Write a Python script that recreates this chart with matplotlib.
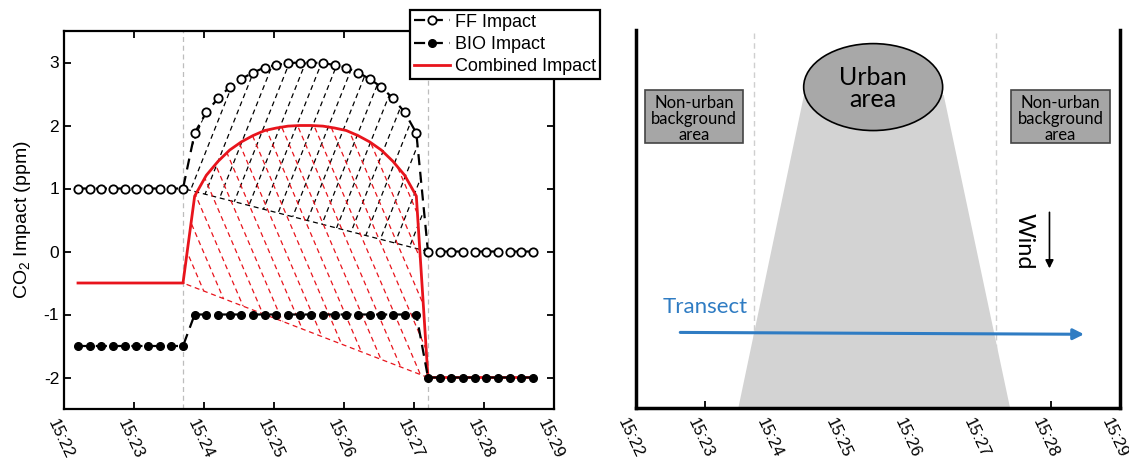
import numpy as np
import matplotlib
matplotlib.use("Agg")
import matplotlib.pyplot as plt
import matplotlib.transforms as mtransforms
from matplotlib.patches import Polygon, Ellipse, Rectangle

plt.rcParams["font.family"] = ["Liberation Sans", "DejaVu Sans"]
plt.rcParams["axes.unicode_minus"] = False
plt.rcParams["mathtext.fontset"] = "custom"
plt.rcParams["mathtext.rm"] = "Liberation Sans"
plt.rcParams["mathtext.default"] = "regular"

# sample times, seconds after 15:22:00 (10 s sampling)
time_s = [12, 22, 32, 42, 52, 62, 72, 82, 92, 102,
          112, 122, 132, 142, 152, 162, 172, 182, 192, 202,
          212, 222, 232, 242, 252, 262, 272, 282, 292, 302,
          312, 322, 332, 342, 352, 362, 372, 382, 392, 402]

ff_impact = [1, 1, 1, 1, 1, 1, 1, 1, 1, 1,
             1.88, 2.21, 2.43, 2.61, 2.74, 2.84, 2.92, 2.96, 2.99, 3.0,
             3.0, 2.99, 2.96, 2.92, 2.84, 2.74, 2.61, 2.43, 2.21, 1.88,
             0, 0, 0, 0, 0, 0, 0, 0, 0, 0]

bio_impact = [-1.5, -1.5, -1.5, -1.5, -1.5, -1.5, -1.5, -1.5, -1.5, -1.5,
              -1, -1, -1, -1, -1, -1, -1, -1, -1, -1,
              -1, -1, -1, -1, -1, -1, -1, -1, -1, -1,
              -2, -2, -2, -2, -2, -2, -2, -2, -2, -2]

tick_labels = ["15:22", "15:23", "15:24", "15:25", "15:26", "15:27", "15:28", "15:29"]

# index of the last background point before / first after the urban plume
plume_start = 9
plume_end = 30

t = np.array(time_s) / 60.0
ff = np.array(ff_impact)
bio = np.array(bio_impact)
combined = ff + bio


def hatch(ax, xs, ys, slope, step, color):
    # dashed hatching clipped to polygon, edge along the closing chord
    verts = np.column_stack([xs, ys])
    poly = Polygon(verts, closed=True, facecolor="none", edgecolor="none")
    ax.add_patch(poly)
    ax.plot([xs[-1], xs[0]], [ys[-1], ys[0]], color=color, lw=0.9,
            dashes=(4, 3), zorder=2)
    for c in np.arange(xs[0] - 3, xs[-1] + 3, step):
        xx = np.array([c - 3, c + 3])
        ln, = ax.plot(xx, slope * (xx - c), color=color, lw=0.9,
                      dashes=(4, 3), zorder=2)
        ln.set_clip_path(poly)


def time_axis(ax, dx_px):
    # call after all tick_params: they reset the label transforms
    ax.set_xlim(0, 7)
    ax.set_xticks(range(8))
    ax.set_xticklabels(tick_labels, rotation=-65, fontsize=12)
    shift = mtransforms.ScaledTranslation(dx_px / 100, 0, fig.dpi_scale_trans)
    for lab in ax.get_xticklabels():
        lab.set_transform(lab.get_transform() + shift)


fig = plt.figure(figsize=(11.29, 4.63), dpi=100)

# ---------------- left panel ----------------
ax1 = fig.add_axes([64 / 1129, 54 / 463, 490 / 1129, 378 / 463])

seg = slice(plume_start, plume_end + 1)
hatch(ax1, t[seg], ff[seg], 2.8, 0.23, "black")
hatch(ax1, t[seg], combined[seg], -2.6, 0.235, "#e8141c")

for k in (plume_start, plume_end):
    ax1.axvline(t[k], color="#bdbdbd", lw=0.9, dashes=(4, 3), zorder=1)

ax1.plot(t, ff, color="black", lw=1.6, dashes=(5, 3), marker="o",
         ms=6, mfc="white", mec="black", mew=1.3, label="FF Impact", zorder=4)
ax1.plot(t, bio, color="black", lw=1.6, dashes=(5, 3), marker="o",
         ms=5.5, mfc="black", mec="black", label="BIO Impact", zorder=4)
ax1.plot(t, combined, color="#e8141c", lw=2.0, label="Combined Impact", zorder=3)

ax1.set_ylim(-2.5, 3.5)
ax1.set_yticks([-2, -1, 0, 1, 2, 3])
ax1.tick_params(axis="y", labelsize=12.5)
ax1.tick_params(direction="in", top=True, right=True, length=5, width=1.3)
ax1.tick_params(axis="x", pad=6)
time_axis(ax1, -3)
for sp in ax1.spines.values():
    sp.set_linewidth(1.6)
ax1.set_ylabel("CO$_2$ Impact (ppm)", fontsize=14, labelpad=8)

leg = ax1.legend(loc="upper right", bbox_to_anchor=(600 / 1129, 1 - 10 / 463),
                 bbox_transform=fig.transFigure, fontsize=13, frameon=True,
                 fancybox=False, edgecolor="black", framealpha=1,
                 borderpad=0.2, labelspacing=0.3, handlelength=2.0,
                 handletextpad=0.3, borderaxespad=0, numpoints=1)
leg.get_frame().set_linewidth(1.6)
leg.set_zorder(10)

# ---------------- right panel (schematic) ----------------
ax2 = fig.add_axes([636 / 1129, 55 / 463, 484 / 1129, 378 / 463])
ax2.set_ylim(0, 1)
ax2.set_axisbelow(True)
ax2.spines["top"].set_visible(False)
for sp in ("left", "right", "bottom"):
    ax2.spines[sp].set_linewidth(2.5)
ax2.set_yticks([])
ax2.tick_params(axis="x", direction="in", length=5, width=1.3, pad=6)
time_axis(ax2, -5)

for k in (plume_start, plume_end):
    ax2.axvline(t[k], color="#cfcfcf", lw=1.0, dashes=(4, 3), zorder=0.5)

ax2.add_patch(Polygon([[1.48, 0], [2.43, 0.828], [4.45, 0.828], [5.41, 0]],
                      closed=True, facecolor="#d3d3d3", edgecolor="none", zorder=1))
ax2.add_patch(Ellipse((3.43, 0.849), 2.01, 0.23, facecolor="#a8a8a8",
                      edgecolor="black", lw=1.2, zorder=2))
ax2.text(3.43, 0.845, "Urban\narea", ha="center", va="center", fontsize=18,
         family="Lato", linespacing=0.95, zorder=3)

for x0 in (0.13, 5.43):
    ax2.add_patch(Rectangle((x0, 0.70), 1.42, 0.141, facecolor="#a6a6a6",
                            edgecolor="#444444", lw=1.2, zorder=2))
    ax2.text(x0 + 0.71, 0.765, "Non-urban\nbackground\narea", ha="center",
             va="center", fontsize=12, family="Lato", linespacing=1.0, zorder=3)

ax2.text(5.62, 0.44, "Wind", rotation=-90, ha="center", va="center",
         fontsize=17, family="Lato", zorder=3)
ax2.annotate("", xy=(5.98, 0.362), xytext=(5.98, 0.525),
             arrowprops=dict(arrowstyle="-|>", color="black", lw=1.2,
                             mutation_scale=12), zorder=3)

ax2.text(0.38, 0.267, "Transect", ha="left", va="center", fontsize=16,
         family="Lato", color="#2f7cc3", zorder=3)
ax2.annotate("", xy=(6.52, 0.195), xytext=(0.6, 0.2),
             arrowprops=dict(arrowstyle="-|>", color="#2f7cc3", lw=2.2,
                             mutation_scale=16), zorder=3)

fig.savefig("out.png", dpi=100)
